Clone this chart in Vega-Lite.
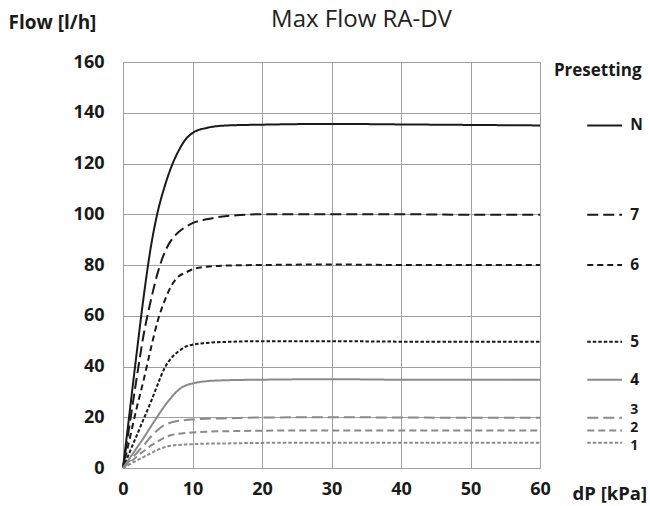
{
  "$schema": "https://vega.github.io/schema/vega-lite/v6.json",
  "width": 417,
  "height": 406,
  "autosize": {"type": "none"},
  "padding": {"left": 123, "top": 62, "right": 110, "bottom": 38},
  "background": "white",
  "config": {
    "font": "Open Sans",
    "view": {"stroke": "#a0a0a0", "strokeWidth": 1}
  },
  "title": {
    "text": "Max Flow RA-DV",
    "fontSize": 24,
    "fontWeight": "normal",
    "color": "#222222",
    "dx": 30,
    "offset": -19
  },
  "datasets": {
    "flow": [
      {"s":"N","dp":0,"q":0},{"s":"N","dp":1,"q":23},{"s":"N","dp":2,"q":46},{"s":"N","dp":3,"q":68},{"s":"N","dp":4,"q":87},{"s":"N","dp":5,"q":101},{"s":"N","dp":6,"q":111},{"s":"N","dp":7,"q":119},{"s":"N","dp":8,"q":125},{"s":"N","dp":9,"q":129.5},{"s":"N","dp":10,"q":132},{"s":"N","dp":12,"q":134},{"s":"N","dp":15,"q":135},{"s":"N","dp":20,"q":135.3},{"s":"N","dp":30,"q":135.6},{"s":"N","dp":40,"q":135.4},{"s":"N","dp":50,"q":135.2},{"s":"N","dp":60,"q":135},
      {"s":"7","dp":0,"q":0},{"s":"7","dp":1,"q":18},{"s":"7","dp":2,"q":36},{"s":"7","dp":3,"q":53},{"s":"7","dp":4,"q":66},{"s":"7","dp":5,"q":77},{"s":"7","dp":6,"q":85},{"s":"7","dp":7,"q":90},{"s":"7","dp":8,"q":93},{"s":"7","dp":9,"q":95},{"s":"7","dp":10,"q":96.5},{"s":"7","dp":12,"q":98},{"s":"7","dp":15,"q":99.3},{"s":"7","dp":20,"q":100},{"s":"7","dp":30,"q":100},{"s":"7","dp":40,"q":100},{"s":"7","dp":50,"q":99.8},{"s":"7","dp":60,"q":99.8},
      {"s":"6","dp":0,"q":0},{"s":"6","dp":1,"q":12},{"s":"6","dp":2,"q":24},{"s":"6","dp":3,"q":35},{"s":"6","dp":4,"q":47},{"s":"6","dp":5,"q":58},{"s":"6","dp":6,"q":66},{"s":"6","dp":7,"q":72},{"s":"6","dp":8,"q":75.5},{"s":"6","dp":9,"q":77},{"s":"6","dp":10,"q":78.3},{"s":"6","dp":12,"q":79.3},{"s":"6","dp":15,"q":79.8},{"s":"6","dp":20,"q":80},{"s":"6","dp":30,"q":80.2},{"s":"6","dp":40,"q":80},{"s":"6","dp":50,"q":80},{"s":"6","dp":60,"q":80},
      {"s":"5","dp":0,"q":0},{"s":"5","dp":1,"q":6.5},{"s":"5","dp":2,"q":13},{"s":"5","dp":3,"q":19.5},{"s":"5","dp":4,"q":26},{"s":"5","dp":5,"q":33},{"s":"5","dp":6,"q":39.5},{"s":"5","dp":7,"q":43.5},{"s":"5","dp":8,"q":46},{"s":"5","dp":9,"q":47.8},{"s":"5","dp":10,"q":48.6},{"s":"5","dp":12,"q":49.3},{"s":"5","dp":15,"q":49.7},{"s":"5","dp":20,"q":50},{"s":"5","dp":30,"q":50},{"s":"5","dp":40,"q":49.8},{"s":"5","dp":50,"q":49.8},{"s":"5","dp":60,"q":49.8},
      {"s":"4","dp":0,"q":0},{"s":"4","dp":1,"q":4},{"s":"4","dp":2,"q":8},{"s":"4","dp":3,"q":12},{"s":"4","dp":4,"q":16.3},{"s":"4","dp":5,"q":20.5},{"s":"4","dp":6,"q":24.5},{"s":"4","dp":7,"q":28},{"s":"4","dp":8,"q":30.8},{"s":"4","dp":9,"q":32.5},{"s":"4","dp":10,"q":33.3},{"s":"4","dp":12,"q":34.2},{"s":"4","dp":15,"q":34.6},{"s":"4","dp":20,"q":34.8},{"s":"4","dp":30,"q":35},{"s":"4","dp":40,"q":34.8},{"s":"4","dp":50,"q":34.8},{"s":"4","dp":60,"q":34.8},
      {"s":"3","dp":0,"q":0},{"s":"3","dp":1,"q":3},{"s":"3","dp":2,"q":6},{"s":"3","dp":3,"q":9},{"s":"3","dp":4,"q":12.3},{"s":"3","dp":5,"q":15},{"s":"3","dp":6,"q":17},{"s":"3","dp":7,"q":18},{"s":"3","dp":8,"q":18.6},{"s":"3","dp":9,"q":18.9},{"s":"3","dp":10,"q":19.1},{"s":"3","dp":12,"q":19.4},{"s":"3","dp":15,"q":19.6},{"s":"3","dp":20,"q":19.9},{"s":"3","dp":30,"q":20},{"s":"3","dp":40,"q":19.9},{"s":"3","dp":50,"q":19.8},{"s":"3","dp":60,"q":19.8},
      {"s":"2","dp":0,"q":0},{"s":"2","dp":1,"q":2.3},{"s":"2","dp":2,"q":4.5},{"s":"2","dp":3,"q":6.7},{"s":"2","dp":4,"q":8.8},{"s":"2","dp":5,"q":10.5},{"s":"2","dp":6,"q":12},{"s":"2","dp":7,"q":13},{"s":"2","dp":8,"q":13.5},{"s":"2","dp":9,"q":13.8},{"s":"2","dp":10,"q":14},{"s":"2","dp":12,"q":14.3},{"s":"2","dp":15,"q":14.5},{"s":"2","dp":20,"q":14.7},{"s":"2","dp":30,"q":14.8},{"s":"2","dp":40,"q":14.8},{"s":"2","dp":50,"q":14.8},{"s":"2","dp":60,"q":14.8},
      {"s":"1","dp":0,"q":0},{"s":"1","dp":1,"q":1.5},{"s":"1","dp":2,"q":3},{"s":"1","dp":3,"q":4.4},{"s":"1","dp":4,"q":5.8},{"s":"1","dp":5,"q":7.2},{"s":"1","dp":6,"q":8.2},{"s":"1","dp":7,"q":8.8},{"s":"1","dp":8,"q":9.1},{"s":"1","dp":9,"q":9.3},{"s":"1","dp":10,"q":9.4},{"s":"1","dp":12,"q":9.6},{"s":"1","dp":15,"q":9.7},{"s":"1","dp":20,"q":9.9},{"s":"1","dp":30,"q":10},{"s":"1","dp":40,"q":10},{"s":"1","dp":50,"q":10},{"s":"1","dp":60,"q":10}
    ]
  },
  "layer": [
    {
      "data": {"name": "flow"},
      "mark": {"type": "line", "interpolate": "monotone", "strokeWidth": 2},
      "encoding": {
        "x": {
          "field": "dp", "type": "quantitative",
          "scale": {"domain": [0, 60], "nice": false, "zero": false},
          "axis": {
            "values": [0, 10, 20, 30, 40, 50, 60],
            "title": "dP [kPa]",
            "grid": true, "gridColor": "#a0a0a0", "gridWidth": 1,
            "domain": false, "ticks": false,
            "labelPadding": 12, "labelFontSize": 18, "labelFontWeight": "bold",
            "labelColor": "#1a1a1a", "labelFlush": false,
            "titleFontSize": 18.5, "titleFontWeight": "bold", "titleColor": "#1a1a1a",
            "titleX": 449, "titleY": 31, "titleAlign": "left", "titleBaseline": "alphabetic"
          }
        },
        "y": {
          "field": "q", "type": "quantitative",
          "scale": {"domain": [0, 160], "nice": false},
          "axis": {
            "values": [0, 20, 40, 60, 80, 100, 120, 140, 160],
            "title": "Flow [l/h]",
            "grid": true, "gridColor": "#a0a0a0", "gridWidth": 1,
            "domain": false, "ticks": false,
            "labelPadding": 19, "labelFontSize": 18, "labelFontWeight": "bold",
            "labelColor": "#1a1a1a", "labelFlush": false,
            "titleFontSize": 19, "titleFontWeight": "bold", "titleColor": "#1a1a1a",
            "titleAngle": 0, "titleX": -115, "titleY": -34, "titleAlign": "left", "titleBaseline": "alphabetic"
          }
        },
        "detail": {"field": "s"},
        "color": {
          "field": "s", "type": "nominal", "legend": null,
          "scale": {"domain": ["N","7","6","5","4","3","2","1"], "range": ["#1a1a1a","#1a1a1a","#1a1a1a","#1a1a1a","#8a8a8a","#8a8a8a","#8a8a8a","#8a8a8a"]}
        },
        "strokeDash": {
          "field": "s", "type": "nominal", "legend": null,
          "scale": {"domain": ["N","7","6","5","4","3","2","1"], "range": [[1,0],[11,5],[6,4],[3.5,2],[1,0],[11,5],[7,4],[3.5,2]]}
        }
      }
    },
    {
      "data": {"name": "flow"},
      "transform": [{"filter": "datum.dp == 60"}],
      "mark": {"type": "rule", "strokeWidth": 2},
      "encoding": {
        "x": {"datum": 66.8, "type": "quantitative"},
        "x2": {"datum": 71.8},
        "y": {"field": "q", "type": "quantitative", "title": "Flow [l/h]"},
        "color": {"field": "s", "type": "nominal", "legend": null},
        "strokeDash": {"field": "s", "type": "nominal", "legend": null}
      }
    },
    {
      "data": {"name": "flow"},
      "transform": [{"filter": "datum.dp == 60 && datum.s != '3' && datum.s != '2' && datum.s != '1'"}],
      "mark": {"type": "text", "align": "left", "baseline": "middle", "fontSize": 15.5, "fontWeight": "bold", "color": "#1a1a1a"},
      "encoding": {
        "x": {"datum": 73.0, "type": "quantitative"},
        "y": {"field": "q", "type": "quantitative", "title": "Flow [l/h]"},
        "text": {"field": "s"}
      }
    },
    {
      "data": {"name": "flow"},
      "transform": [{"filter": "datum.dp == 60 && datum.s == '3'"}],
      "mark": {"type": "text", "align": "left", "baseline": "middle", "fontSize": 14, "fontWeight": "bold", "color": "#1a1a1a", "dy": -8},
      "encoding": {
        "x": {"datum": 73.0, "type": "quantitative"},
        "y": {"field": "q", "type": "quantitative", "title": "Flow [l/h]"},
        "text": {"field": "s"}
      }
    },
    {
      "data": {"name": "flow"},
      "transform": [{"filter": "datum.dp == 60 && datum.s == '2'"}],
      "mark": {"type": "text", "align": "left", "baseline": "middle", "fontSize": 14, "fontWeight": "bold", "color": "#1a1a1a", "dy": -2.5},
      "encoding": {
        "x": {"datum": 73.0, "type": "quantitative"},
        "y": {"field": "q", "type": "quantitative", "title": "Flow [l/h]"},
        "text": {"field": "s"}
      }
    },
    {
      "data": {"name": "flow"},
      "transform": [{"filter": "datum.dp == 60 && datum.s == '1'"}],
      "mark": {"type": "text", "align": "left", "baseline": "middle", "fontSize": 14, "fontWeight": "bold", "color": "#1a1a1a", "dy": 3},
      "encoding": {
        "x": {"datum": 73.0, "type": "quantitative"},
        "y": {"field": "q", "type": "quantitative", "title": "Flow [l/h]"},
        "text": {"field": "s"}
      }
    },
    {
      "data": {"values": [{"label": "Presetting"}]},
      "mark": {"type": "text", "align": "left", "baseline": "alphabetic", "fontSize": 17, "fontWeight": "bold", "color": "#1a1a1a"},
      "encoding": {
        "x": {"datum": 62.0, "type": "quantitative"},
        "y": {"datum": 154.5, "type": "quantitative"},
        "text": {"field": "label"}
      }
    }
  ]
}
